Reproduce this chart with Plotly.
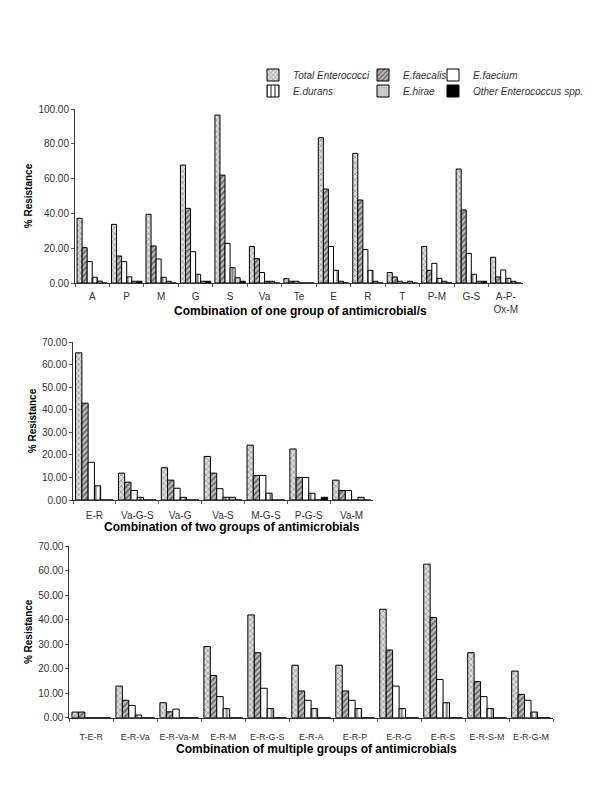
import plotly.graph_objects as go

series = ["Total Enterococci", "E.faecalis", "E.faecium", "E.durans", "E.hirae", "Other Enterococcus spp."]

cats1 = ["A", "P", "M", "G", "S", "Va", "Te", "E", "R", "T", "P-M", "G-S", "A-P-<br>Ox-M"]
total1 = [37.2, 33.7, 39.5, 67.8, 96.5, 21.0, 2.5, 83.5, 74.5, 6.0, 21.0, 65.5, 14.8]
faecalis1 = [20.3, 15.5, 21.3, 42.9, 62.0, 14.0, 1.0, 54.0, 47.7, 3.5, 7.3, 42.0, 3.5]
faecium1 = [12.3, 12.3, 13.8, 18.0, 22.8, 6.0, 1.0, 21.0, 19.3, 1.0, 11.3, 17.0, 7.5]
durans1 = [3.3, 3.5, 3.3, 5.0, 8.8, 1.0, 0.0, 7.3, 7.3, 0.0, 2.7, 5.0, 2.7]
hirae1 = [1.1, 1.0, 1.0, 1.0, 3.0, 1.0, 0.0, 1.0, 1.0, 1.0, 1.0, 1.0, 1.0]
other1 = [0.0, 1.0, 0.0, 1.0, 1.0, 0.0, 0.0, 0.0, 0.0, 0.0, 0.0, 1.0, 0.0]

cats2 = ["E-R", "Va-G-S", "Va-G", "Va-S", "M-G-S", "P-G-S", "Va-M"]
total2 = [65.2, 11.9, 14.3, 19.3, 24.3, 22.6, 8.8]
faecalis2 = [42.9, 7.9, 8.8, 11.9, 10.9, 10.0, 4.2]
faecium2 = [16.7, 4.2, 5.2, 5.0, 10.9, 10.0, 4.2]
durans2 = [6.3, 1.2, 1.2, 1.2, 3.0, 3.0, 0.0]
hirae2 = [0.0, 0.0, 0.0, 1.2, 0.0, 0.0, 1.2]
other2 = [0.0, 0.0, 0.0, 0.0, 0.0, 1.2, 0.0]

cats3 = ["T-E-R", "E-R-Va", "E-R-Va-M", "E-R-M", "E-R-G-S", "E-R-A", "E-R-P", "E-R-G", "E-R-S", "E-R-S-M", "E-R-G-M"]
total3 = [2.3, 12.9, 6.1, 29.0, 41.9, 21.4, 21.4, 44.2, 62.6, 26.5, 19.0]
faecalis3 = [2.3, 7.1, 2.4, 17.2, 26.5, 10.9, 10.9, 27.6, 40.9, 14.7, 9.5]
faecium3 = [0.0, 5.0, 3.5, 8.6, 12.0, 7.1, 7.1, 12.9, 15.6, 8.6, 7.1]
durans3 = [0.0, 1.1, 0.0, 3.7, 3.7, 3.7, 3.7, 3.7, 6.1, 3.7, 2.3]
hirae3 = [0.0] * 11
other3 = [0.0] * 11

titles = ["Combination of one group of antimicrobial/s",
          "Combination of two groups of antimicrobials",
          "Combination of multiple groups of antimicrobials"]

styles = [
    dict(color="#d9d9d9", pattern=dict(shape="x", fgcolor="#555555", bgcolor="#dddddd", size=4, solidity=0.35)),
    dict(color="#888888", pattern=dict(shape="/", fgcolor="#111111", bgcolor="#bdbdbd", size=4, solidity=0.45)),
    dict(color="white"),
    dict(color="white", pattern=dict(shape="|", fgcolor="#000000", bgcolor="#ffffff", size=5, solidity=0.45)),
    dict(color="#c8c8c8", pattern=dict(shape=".", fgcolor="#999999", bgcolor="#cccccc", size=3, solidity=0.2)),
    dict(color="#000000"),
]

panels = [
    (cats1, [total1, faecalis1, faecium1, durans1, hirae1, other1]),
    (cats2, [total2, faecalis2, faecium2, durans2, hirae2, other2]),
    (cats3, [total3, faecalis3, faecium3, durans3, hirae3, other3]),
]

legend_names = ["legend", "legend2", "legend3", "legend4", "legend5", "legend6"]

fig = go.Figure()
for p, (cats, vals) in enumerate(panels):
    ax = "" if p == 0 else str(p + 1)
    for i, name in enumerate(series):
        fig.add_trace(go.Bar(
            x=cats, y=vals[i], name=name,
            xaxis="x" + ax, yaxis="y" + ax,
            marker=dict(line=dict(color="#000000", width=1), **styles[i]),
            showlegend=(p == 0), legend=legend_names[i],
        ))

font_fam = "Liberation Sans, Arial, sans-serif"
px_w, px_h = 600, 800
OFF = 8  # page body margin
def fx(px):
    return (px - OFF) / px_w
def fy(py):
    return 1 - (py - OFF) / px_h

# (x range px), (y bottom/top px), ymax, dtick, tick font size, tick label standoff
domains = [
    ((75, 523), (283, 109), 100, 20, 10, 4),
    ((73, 373), (500, 342), 70, 10, 10, 6),
    ((69.3, 553), (717.7, 546), 70, 10, 9, 10),
]
title_pos = [(300, 311), (232, 527), (316, 749)]

layout = dict(
    width=600, height=800,
    margin=dict(l=0, r=0, t=0, b=0),
    paper_bgcolor="white", plot_bgcolor="white",
    barmode="group", bargap=0.12, bargroupgap=0,
    font=dict(family=font_fam, size=10, color="#333333"),
)

annotations = []
for p, ((x0, x1), (yb, yt), ymax, dt, tfs, tso) in enumerate(domains):
    ax = "" if p == 0 else str(p + 1)
    layout["xaxis" + ax] = dict(
        domain=[fx(x0), fx(x1)], anchor="y" + ax, type="category",
        showline=True, linecolor="#333333", linewidth=1,
        ticks="outside", tickson="boundaries", ticklen=3, tickcolor="#555555",
        showgrid=False, tickangle=0, tickfont=dict(size=tfs, color="#333333"),
        ticklabelstandoff=tso,
        automargin=False,
    )
    layout["yaxis" + ax] = dict(
        domain=[fy(yb), fy(yt)], anchor="x" + ax, range=[0, ymax], dtick=dt,
        tickformat=".2f", showline=True, linecolor="#333333", linewidth=1,
        ticks="outside", ticklen=3, tickcolor="#555555",
        showgrid=False, zeroline=False, tickfont=dict(size=10, color="#333333"),
        title=dict(text="<b>% Resistance</b>", font=dict(size=10, color="#000000"), standoff=3),
        automargin=False,
    )
    tx, ty = title_pos[p]
    annotations.append(dict(
        text="<b>" + titles[p] + "</b>", x=fx(tx), y=fy(ty), xref="paper", yref="paper",
        xanchor="center", yanchor="middle", showarrow=False,
        font=dict(size=12, color="#000000", family=font_fam),
    ))
layout["annotations"] = annotations

# individual legends laid out as 3 columns x 2 rows (positions of text start / row centre)
leg_pos = [(292, 74), (402, 74), (472, 74), (292, 90), (402, 90), (472, 90)]
for name, (tx, ty) in zip(legend_names, leg_pos):
    layout[name] = dict(
        x=fx(tx - 39), y=fy(ty + 1), xanchor="left", yanchor="middle",
        bgcolor="rgba(0,0,0,0)", borderwidth=0,
        font=dict(family=font_fam, size=10, color="#333333", style="italic"),
        itemwidth=30,
    )

fig.update_layout(**layout)
fig.write_html("out.html")
